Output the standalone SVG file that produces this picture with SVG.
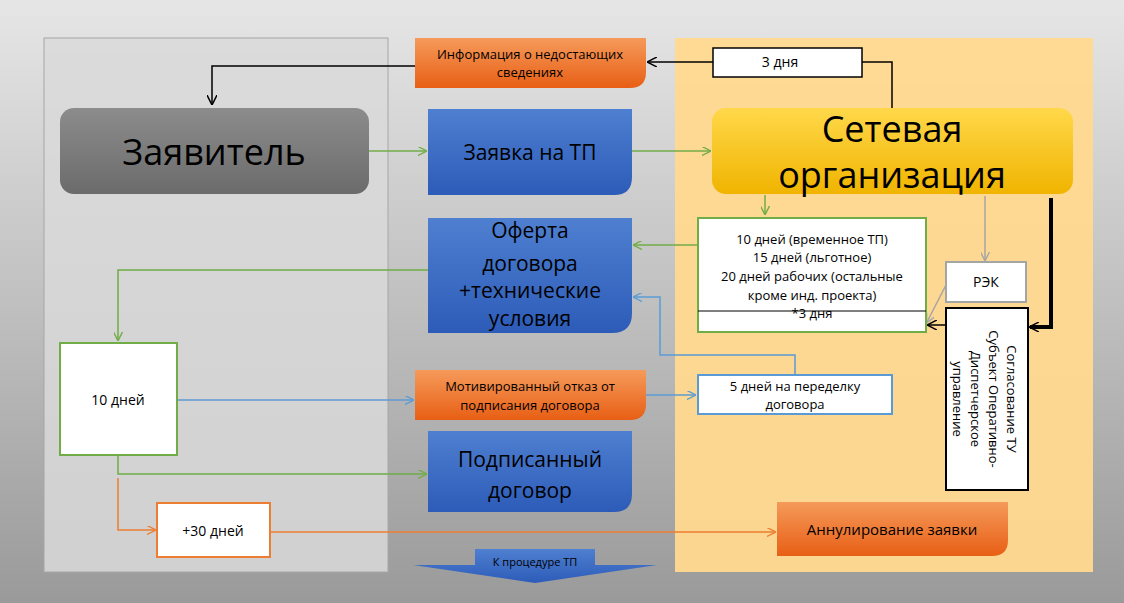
<svg xmlns="http://www.w3.org/2000/svg" width="1124" height="603" viewBox="0 0 1124 603">
<defs>
<linearGradient id="bg" x1="0" y1="0" x2="0" y2="1"><stop offset="0" stop-color="#e6e6e6"/><stop offset="1" stop-color="#9a9a9a"/></linearGradient>
<linearGradient id="blue" x1="0" y1="0" x2="0" y2="1"><stop offset="0" stop-color="#4f7fd0"/><stop offset="1" stop-color="#2c5cb8"/></linearGradient>
<linearGradient id="gray" x1="0" y1="0" x2="0" y2="1"><stop offset="0" stop-color="#8c8c8c"/><stop offset="1" stop-color="#6b6b6b"/></linearGradient>
<linearGradient id="gold" x1="0" y1="0" x2="0" y2="1"><stop offset="0" stop-color="#ffd84a"/><stop offset="1" stop-color="#f0b400"/></linearGradient>
<linearGradient id="orange" x1="0" y1="0" x2="0" y2="1"><stop offset="0" stop-color="#f59a5a"/><stop offset="1" stop-color="#e85f15"/></linearGradient>
<marker id="ag" viewBox="0 0 10 10" refX="9" refY="5" markerWidth="9" markerHeight="9" orient="auto-start-reverse" markerUnits="userSpaceOnUse"><path d="M0,0L10,5L0,10" fill="none" stroke="#70ad47" stroke-width="1.5"/></marker>
<marker id="ab" viewBox="0 0 10 10" refX="9" refY="5" markerWidth="9" markerHeight="9" orient="auto-start-reverse" markerUnits="userSpaceOnUse"><path d="M0,0L10,5L0,10" fill="none" stroke="#5b9bd5" stroke-width="1.5"/></marker>
<marker id="ak" viewBox="0 0 10 10" refX="9" refY="5" markerWidth="10" markerHeight="10" orient="auto-start-reverse" markerUnits="userSpaceOnUse"><path d="M0,0L10,5L0,10" fill="none" stroke="#000" stroke-width="1.5"/></marker>
<marker id="ay" viewBox="0 0 10 10" refX="9" refY="5" markerWidth="9" markerHeight="9" orient="auto-start-reverse" markerUnits="userSpaceOnUse"><path d="M0,0L10,5L0,10" fill="none" stroke="#a5a5a5" stroke-width="1.5"/></marker>
<marker id="ao" viewBox="0 0 10 10" refX="9" refY="5" markerWidth="9" markerHeight="9" orient="auto-start-reverse" markerUnits="userSpaceOnUse"><path d="M0,0L10,5L0,10" fill="none" stroke="#ed7d31" stroke-width="1.5"/></marker>
</defs>
<style>
text{font-family:"Open Sans","Liberation Sans",sans-serif;fill:#000;text-anchor:middle}
.g{stroke:#70ad47;stroke-width:1.5;fill:none}
.b{stroke:#5b9bd5;stroke-width:1.5;fill:none}
.k{stroke:#000;stroke-width:1.5;fill:none}
.y{stroke:#a5a5a5;stroke-width:1.5;fill:none}
.o{stroke:#ed7d31;stroke-width:1.5;fill:none}
.s{font-size:13px}
.t{font-size:14px}
.m{font-size:21px}
</style>
<rect width="1124" height="603" fill="url(#bg)"/>
<rect x="44" y="38" width="344" height="534" fill="#d9d9d9" fill-opacity="0.85" stroke="#a6a6a6"/>
<rect x="675" y="38" width="418" height="534" fill="#ffd98f" fill-opacity="0.95"/>
<g id="connectors">
<path class="k" d="M892,108V62H862"/><path class="k" d="M713,62H648" marker-end="url(#ak)"/>
<path class="k" d="M415,66H212V104" marker-end="url(#ak)"/>
<path class="g" d="M369,151H426" marker-end="url(#ag)"/>
<path class="g" d="M632,151H710" marker-end="url(#ag)"/>
<path class="g" d="M765,195V214" marker-end="url(#ag)"/>
<path class="g" d="M698,245H634" marker-end="url(#ag)"/>
<path class="g" d="M428,270H118V340" marker-end="url(#ag)"/>
<path class="g" d="M118,455V474H426" marker-end="url(#ag)"/>
<path class="b" d="M177,400H413" marker-end="url(#ab)"/>
<path class="b" d="M646,395H695" marker-end="url(#ab)"/>
<path class="b" d="M795,375V355H660V297H634" marker-end="url(#ab)"/>
<path class="y" d="M985,196V260" marker-end="url(#ay)"/>
<path class="y" d="M946,285L927,322" marker-end="url(#ay)"/>
<path d="M1051,198V327H1030" fill="none" stroke="#000" stroke-width="4"/><path class="k" d="M1040,327H1030" marker-end="url(#ak)"/>
<path class="k" d="M946,325H928" marker-end="url(#ak)"/>
<path class="o" d="M118,478V530H155" marker-end="url(#ao)"/>
<path class="o" d="M270,532H775" marker-end="url(#ao)"/>
</g>
<g id="info"><path d="M415,38H646V72Q646,88 630,88H415Z" fill="url(#orange)"/><text class="s" x="530" y="59">Информация о недостающих</text><text class="s" x="530" y="77">сведениях</text></g>
<g id="days3"><rect x="713" y="48" width="149" height="29" fill="#fff" stroke="#000" stroke-width="1.5"/><text class="t" x="780" y="67">3 дня</text></g>
<g id="applicant"><rect x="60" y="108" width="309" height="86" rx="14" fill="url(#gray)"/><text x="214" y="165" font-size="36">Заявитель</text></g>
<g id="request"><path d="M428,109H632V177Q632,195 614,195H428Z" fill="url(#blue)"/><text class="m" x="530" y="160">Заявка на ТП</text></g>
<g id="grid"><rect x="712" y="108" width="361" height="86" rx="14" fill="url(#gold)"/><text x="892" y="142" font-size="36">Сетевая</text><text x="892" y="188" font-size="36">организация</text></g>
<g id="offer"><path d="M428,218H632V313Q632,333 612,333H428Z" fill="url(#blue)"/><text class="m" x="530" y="238">Оферта</text><text class="m" x="530" y="271">договора</text><text class="m" x="530" y="298">+технические</text><text class="m" x="530" y="326">условия</text></g>
<g id="terms"><rect x="698" y="218" width="228" height="114" fill="#fff" stroke="#70ad47" stroke-width="2"/><line x1="698" y1="311" x2="926" y2="311" stroke="#000"/><text class="s" x="812" y="244">10 дней (временное ТП)</text><text class="s" x="812" y="262">15 дней (льготное)</text><text class="s" x="812" y="281">20 дней рабочих (остальные</text><text class="s" x="812" y="300">кроме инд. проекта)</text><text class="s" x="812" y="318">*3 дня</text></g>
<g id="rek"><rect x="946" y="262" width="80" height="40" fill="#fff" stroke="#a5a5a5" stroke-width="2"/><text class="t" x="986" y="287">РЭК</text></g>
<g id="so"><rect x="946" y="308" width="82" height="182" fill="#fff" stroke="#000" stroke-width="2"/><g transform="translate(987,399) rotate(90)"><text class="s" x="0" y="-20">Согласование ТУ</text><text class="s" x="0" y="-2">Субъект Оперативно-</text><text class="s" x="0" y="16">Диспетчерское</text><text class="s" x="0" y="34">управление</text></g></g>
<g id="days10"><rect x="60" y="343" width="117" height="112" fill="#fff" stroke="#70ad47" stroke-width="2"/><text class="t" x="118" y="405">10 дней</text></g>
<g id="refusal"><path d="M415,370H646V404Q646,420 630,420H415Z" fill="url(#orange)"/><text class="s" x="530" y="391">Мотивированный отказ от</text><text class="s" x="530" y="410">подписания договора</text></g>
<g id="days5"><rect x="698" y="375" width="194" height="39" fill="#fff" stroke="#5b9bd5" stroke-width="2"/><text class="s" x="795" y="391">5 дней на переделку</text><text class="s" x="795" y="409">договора</text></g>
<g id="signed"><path d="M428,431H632V494Q632,512 614,512H428Z" fill="url(#blue)"/><text class="m" x="530" y="467">Подписанный</text><text class="m" x="530" y="498">договор</text></g>
<g id="days30"><rect x="157" y="503" width="113" height="54" fill="#fff" stroke="#ed7d31" stroke-width="2"/><text class="t" x="213" y="536">+30 дней</text></g>
<g id="cancel"><path d="M777,502H1008V540Q1008,556 992,556H777Z" fill="url(#orange)"/><text x="892" y="535" font-size="15">Аннулирование заявки</text></g>
<g id="next"><path d="M475,549H595V565H657L535,583L413,565H475Z" fill="url(#blue)"/><text x="535" y="566" font-size="11">К процедуре ТП</text></g>
</svg>
